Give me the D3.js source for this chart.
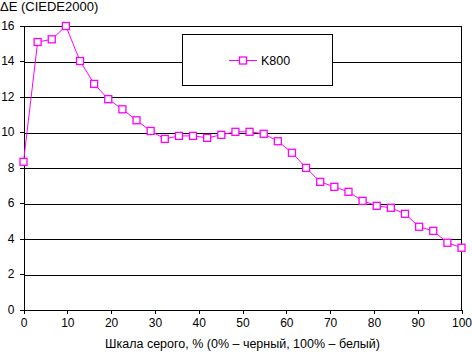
<!DOCTYPE html>
<html>
<head>
<meta charset="utf-8">
<script src="https://cdn.jsdelivr.net/npm/d3@7"></script>
<style>
  body { margin: 0; background: #fff; }
  text { font-family: Arial, "Liberation Sans", sans-serif; font-size: 12px; fill: #000; }
</style>
</head>
<body>
<div id="chart"></div>
<script>
// grey level steps (32 points, 0..100%)
var grey_levels = d3.range(32).map(function(i){ return i * 100 / 31; });
var delta_e = [8.32, 15.07, 15.22, 15.97, 14.0, 12.71, 11.85, 11.28, 10.66, 10.06,
               9.61, 9.78, 9.78, 9.67, 9.84, 10.01, 10.01, 9.9, 9.48, 8.83,
               7.98, 7.19, 6.91, 6.63, 6.12, 5.84, 5.73, 5.39, 4.66, 4.43,
               3.76, 3.48];
var x_ticks = [0, 10, 20, 30, 40, 50, 60, 70, 80, 90, 100];
var y_ticks = [0, 2, 4, 6, 8, 10, 12, 14, 16];
var series_name = "K800";
var y_title = "ΔE (CIEDE2000)";
var x_title = "Шкала серого, % (0% – черный, 100% – белый)";

var svg_width = 472, svg_height = 352;
var margin = {top:25.5, left:23.5, bottom:42.5, right:10};
var inner_width = 461.5 - margin.left;
var inner_height = 309.5 - margin.top;

var svg = d3.select("#chart").append("svg")
            .attr("width", svg_width)
            .attr("height", svg_height);

var g = svg.append("g")
           .attr("transform", "translate(" + margin.left + "," + margin.top + ")");

var xScale = d3.scaleLinear().domain([0,100]).range([0, inner_width]);
var yScale = d3.scaleLinear().domain([0,16]).range([inner_height, 0]);

/*grid lines*/
g.append("g")
 .selectAll("line")
 .data(y_ticks.filter(function(d){ return d > 0; }))
 .enter().append("line")
 .attr("x1", 0)
 .attr("x2", inner_width)
 .attr("y1", function(d){ return Math.round(yScale(d)) + 0.5; })
 .attr("y2", function(d){ return Math.round(yScale(d)) + 0.5; })
 .attr("stroke", "#000")
 .attr("stroke-width", 1)
 .attr("shape-rendering", "crispEdges");

/*right border*/
g.append("line")
 .attr("x1", inner_width).attr("x2", inner_width)
 .attr("y1", 0).attr("y2", inner_height)
 .attr("stroke", "#000")
 .attr("shape-rendering", "crispEdges");

/*axes*/
var axis_x = d3.axisBottom(xScale).tickValues(x_ticks).tickSize(4).tickSizeOuter(0).tickPadding(5);
var axis_y = d3.axisLeft(yScale).tickValues(y_ticks).tickSize(4).tickSizeOuter(0).tickPadding(5);

var gx = g.append("g")
          .attr("transform", "translate(0," + inner_height + ")")
          .call(axis_x);
var gy = g.append("g").call(axis_y);

[gx, gy].forEach(function(a){
  a.attr("font-family", null).attr("font-size", null);
  a.select(".domain").attr("stroke", "#000").attr("shape-rendering", "crispEdges");
  a.selectAll(".tick line").attr("stroke", "#000").attr("shape-rendering", "crispEdges");
  a.selectAll("text").attr("fill", "#000");
});

/*series*/
var line = d3.line()
             .x(function(d, i){ return xScale(grey_levels[i]); })
             .y(function(d){ return yScale(d); });

g.append("path")
 .attr("d", line(delta_e))
 .attr("fill", "none")
 .attr("stroke", "#ff00ff")
 .attr("stroke-width", 1);

g.selectAll(".marker")
 .data(delta_e)
 .enter().append("rect")
 .attr("class", "marker")
 .attr("x", function(d, i){ return xScale(grey_levels[i]) - 3.5; })
 .attr("y", function(d){ return yScale(d) - 3.5; })
 .attr("width", 7)
 .attr("height", 7)
 .attr("fill", "#fff")
 .attr("stroke", "#ff00ff")
 .attr("stroke-width", 1.3);

/*legend*/
var legend = svg.append("g");
legend.append("rect")
      .attr("x", 182.5).attr("y", 34.5)
      .attr("width", 150).attr("height", 51)
      .attr("fill", "#fff")
      .attr("stroke", "#000")
      .attr("stroke-width", 1)
      .attr("shape-rendering", "crispEdges");
legend.append("line")
      .attr("x1", 229).attr("x2", 257)
      .attr("y1", 60.5).attr("y2", 60.5)
      .attr("stroke", "#ff00ff");
legend.append("rect")
      .attr("x", 239.5).attr("y", 57)
      .attr("width", 7).attr("height", 7)
      .attr("fill", "#fff")
      .attr("stroke", "#ff00ff")
      .attr("stroke-width", 1.3);
legend.append("text")
      .attr("x", 261).attr("y", 65)
      .style("font-size", "12.5px")
      .text(series_name);

/*titles*/
svg.append("text")
   .attr("x", 0).attr("y", 11)
   .style("font-size", "13px")
   .text(y_title);

svg.append("text")
   .attr("x", margin.left + inner_width / 2).attr("y", 348)
   .attr("text-anchor", "middle")
   .style("font-size", "12.5px")
   .text(x_title);
</script>
</body>
</html>
